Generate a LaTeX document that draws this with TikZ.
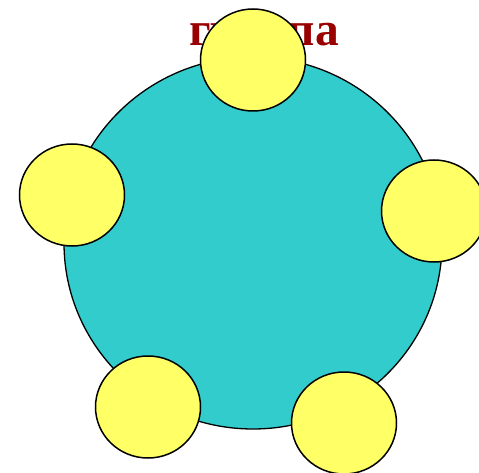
\documentclass[tikz,border=0pt]{standalone}
\usepackage{fontspec}
\setmainfont{Liberation Serif}
\usetikzlibrary{shapes.geometric}
\definecolor{cyanfill}{HTML}{33CCCC}
\definecolor{yel}{HTML}{FFFF66}
\definecolor{darkred}{HTML}{990000}
\begin{document}
\begin{tikzpicture}[x=1pt,y=-1pt,
  ball/.style={ellipse,draw=black,line width=1.5pt,fill=yel,minimum width=105pt,minimum height=102pt,inner sep=0pt},
  title/.style={text=darkred,font=\fontsize{47.5}{50}\selectfont\bfseries,inner sep=0pt,anchor=base}]
\useasboundingbox (0,0) rectangle (479,473);
\node[title] (t) at (264,46) {группа};
\node[ellipse,draw=black,line width=1.3pt,fill=cyanfill,minimum width=378pt,minimum height=372pt,inner sep=0pt] (big) at (253,243) {};
\node[ball] (b1) at (253,60) {};
\node[ball] (b2) at (72,195) {};
\node[ball] (b3) at (434,211) {};
\node[ball] (b4) at (148,407) {};
\node[ball] (b5) at (344,423) {};
\end{tikzpicture}
\end{document}
